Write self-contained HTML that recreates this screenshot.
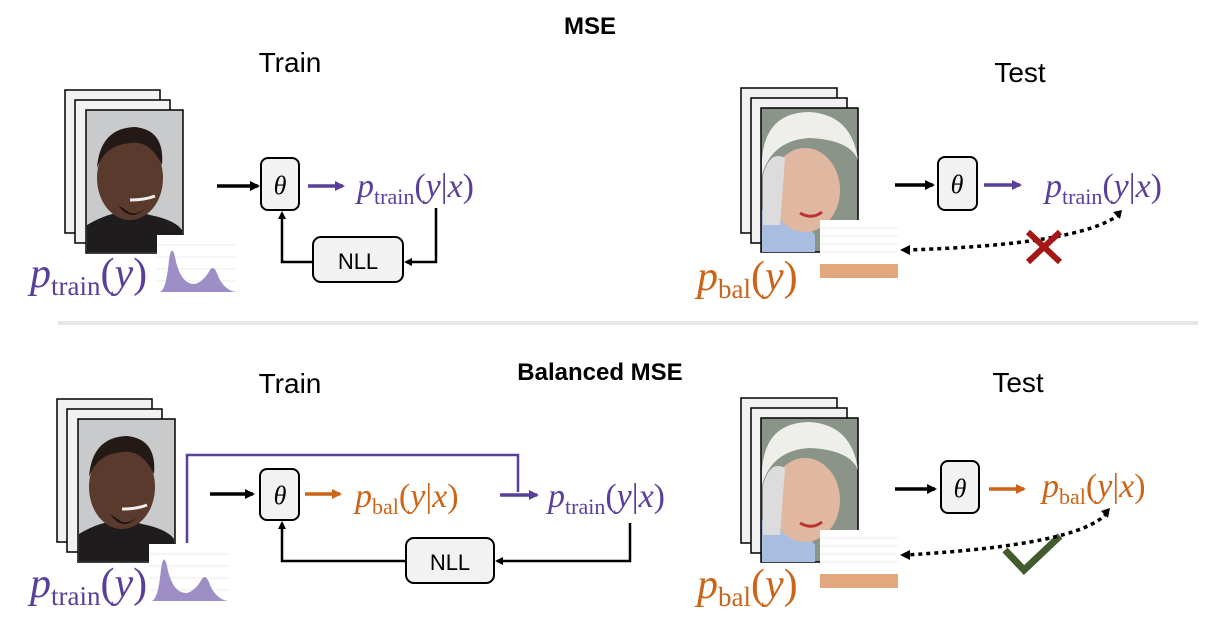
<!DOCTYPE html>
<html><head><meta charset="utf-8"><style>
html,body{margin:0;padding:0;background:#fff;}
svg{display:block}
.m{font-family:"Liberation Serif",serif;font-style:italic;}
.s{font-family:"Liberation Serif",serif;font-style:normal;}
.h{font-family:"Liberation Sans",sans-serif;}
</style></head><body>
<svg width="1220" height="622" viewBox="0 0 1220 622" xmlns="http://www.w3.org/2000/svg">
<defs>
<marker id="ak" markerWidth="8" markerHeight="8" refX="6" refY="4" orient="auto" markerUnits="userSpaceOnUse"><path d="M0,0 L8,4 L0,8 z" fill="#000"/></marker>
<marker id="ap" markerWidth="10" markerHeight="10" refX="8" refY="5" orient="auto" markerUnits="userSpaceOnUse"><path d="M0,0 L10,5 L0,10 z" fill="#5a3e9b"/></marker>
<marker id="ao" markerWidth="10" markerHeight="10" refX="8" refY="5" orient="auto" markerUnits="userSpaceOnUse"><path d="M0,0 L10,5 L0,10 z" fill="#cc6418"/></marker>
<marker id="ab" markerWidth="10" markerHeight="10" refX="8" refY="5" orient="auto" markerUnits="userSpaceOnUse"><path d="M0,0 L10,5 L0,10 z" fill="#000"/></marker>
<g id="man">
<rect x="65" y="90" width="95" height="143" fill="#f2f2f2" stroke="#000" stroke-width="1.5"/>
<rect x="75" y="100" width="95" height="143" fill="#f2f2f2" stroke="#000" stroke-width="1.5"/>
<rect x="86" y="110" width="97" height="143" fill="#c9cacb" stroke="#000" stroke-width="1.5"/>
<path d="M87,225 Q120,205 150,215 Q175,220 182,230 L182,252 L87,252 z" fill="#1e1c1c"/>
<ellipse cx="130" cy="178" rx="33" ry="42" fill="#5a3a2c"/>
<path d="M97,168 Q100,128 135,127 Q165,130 162,165 Q150,140 130,143 Q105,145 97,168z" fill="#231a17"/>
<path d="M118,205 Q132,225 148,205 Q140,215 130,213z" fill="#1a1210"/>
<path d="M130,200 Q145,200 155,196" stroke="#eee" stroke-width="3" fill="none"/>
<rect x="157" y="235" width="79" height="58" fill="#fff"/>
<g stroke="#eee" stroke-width="1"><line x1="157" y1="245" x2="236" y2="245"/><line x1="157" y1="257" x2="236" y2="257"/><line x1="157" y1="269" x2="236" y2="269"/><line x1="157" y1="281" x2="236" y2="281"/></g>
<path d="M159,292 Q166,292 169,260 Q172,240 176,262 Q182,285 195,284 Q203,282 210,270 Q214,264 218,276 Q224,290 236,292 z" fill="#9d8fc6"/>
</g>
<g id="woman">
<rect x="741" y="88" width="96" height="145" fill="#f2f2f2" stroke="#000" stroke-width="1.5"/>
<rect x="751" y="98" width="96" height="145" fill="#f2f2f2" stroke="#000" stroke-width="1.5"/>
<rect x="761" y="108" width="97" height="144" fill="#8a9488" stroke="#000" stroke-width="1.5"/>
<path d="M762,210 Q790,200 815,235 L815,252 L762,252 z" fill="#a9bde0"/>
<ellipse cx="805" cy="190" rx="35" ry="42" fill="#e0b8a2"/>
<path d="M762,160 Q765,112 810,112 Q852,115 858,160 Q850,140 810,138 Q772,140 762,175z" fill="#eeeeea"/>
<path d="M763,175 Q770,150 785,158 L780,225 L763,225z" fill="#dcdcdc"/>
<path d="M800,213 Q812,220 822,212" stroke="#b33" stroke-width="3" fill="none"/>
<rect x="820" y="220" width="78" height="58" fill="#fff"/>
<g stroke="#eee" stroke-width="1"><line x1="820" y1="228" x2="898" y2="228"/><line x1="820" y1="236" x2="898" y2="236"/><line x1="820" y1="244" x2="898" y2="244"/><line x1="820" y1="252" x2="898" y2="252"/></g>
<rect x="820" y="264" width="78" height="14" fill="#e2a77c"/>
</g>
</defs>

<text x="590" y="34" class="h" font-size="24" font-weight="bold" text-anchor="middle">MSE</text>
<text x="290" y="72" class="h" font-size="28" text-anchor="middle">Train</text>
<text x="1020" y="82" class="h" font-size="28" text-anchor="middle">Test</text>

<use href="#man"/>
<text x="30" y="287" fill="#5a3e9b" font-size="42"><tspan class="m">p</tspan><tspan class="s" font-size="27" dy="8">train</tspan><tspan class="s" dy="-8">(</tspan><tspan class="m">y</tspan><tspan class="s">)</tspan></text>
<line x1="217" y1="186" x2="258" y2="186" stroke="#000" stroke-width="3.5" marker-end="url(#ab)"/>
<rect x="261" y="158" width="38" height="52" rx="7" fill="#f2f2f2" stroke="#000" stroke-width="2"/>
<text x="280" y="194" class="m" font-size="26" text-anchor="middle">θ</text>
<line x1="308" y1="186" x2="343" y2="186" stroke="#5a3e9b" stroke-width="3.5" marker-end="url(#ap)"/>
<text x="357" y="197" fill="#5a3e9b" font-size="34"><tspan class="m">p</tspan><tspan class="s" font-size="22" dy="7">train</tspan><tspan class="s" dy="-7">(</tspan><tspan class="m">y</tspan><tspan class="s">|</tspan><tspan class="m">x</tspan><tspan class="s">)</tspan></text>
<polyline points="436,208 436,262 406,262" fill="none" stroke="#000" stroke-width="2.5" marker-end="url(#ak)"/>
<rect x="313" y="237" width="90" height="45" rx="8" fill="#f2f2f2" stroke="#000" stroke-width="2"/>
<text x="358" y="269" class="h" font-size="22" text-anchor="middle">NLL</text>
<polyline points="313,262 282,262 282,213" fill="none" stroke="#000" stroke-width="2.5" marker-end="url(#ak)"/>

<use href="#woman"/>
<text x="697" y="290" fill="#cc6418" font-size="42"><tspan class="m">p</tspan><tspan class="s" font-size="27" dy="8">bal</tspan><tspan class="s" dy="-8">(</tspan><tspan class="m">y</tspan><tspan class="s">)</tspan></text>
<line x1="895" y1="185" x2="933" y2="185" stroke="#000" stroke-width="3.5" marker-end="url(#ab)"/>
<rect x="938" y="157" width="39" height="53" rx="7" fill="#f2f2f2" stroke="#000" stroke-width="2"/>
<text x="957" y="193" class="m" font-size="26" text-anchor="middle">θ</text>
<line x1="984" y1="185" x2="1020" y2="185" stroke="#5a3e9b" stroke-width="3.5" marker-end="url(#ap)"/>
<text x="1045" y="197" fill="#5a3e9b" font-size="34"><tspan class="m">p</tspan><tspan class="s" font-size="22" dy="7">train</tspan><tspan class="s" dy="-7">(</tspan><tspan class="m">y</tspan><tspan class="s">|</tspan><tspan class="m">x</tspan><tspan class="s">)</tspan></text>
<path d="M1120,214 Q1080,245 905,250" fill="none" stroke="#000" stroke-width="3.5" stroke-dasharray="4,4"/>
<path d="M900,250 L910,245 L910,255z" fill="#000"/>
<path d="M1122,210 L1113,212 L1120,219z" fill="#000"/>
<path d="M1028,232 L1060,262 M1060,232 L1028,262" stroke="#a51616" stroke-width="6"/>

<line x1="58" y1="323" x2="1198" y2="323" stroke="#e6e6e6" stroke-width="4"/>

<text x="600" y="380" class="h" font-size="24" font-weight="bold" text-anchor="middle">Balanced MSE</text>
<text x="290" y="393" class="h" font-size="28" text-anchor="middle">Train</text>
<text x="1018" y="392" class="h" font-size="28" text-anchor="middle">Test</text>

<g transform="translate(-8,309)"><use href="#man"/></g>
<text x="30" y="597" fill="#5a3e9b" font-size="42"><tspan class="m">p</tspan><tspan class="s" font-size="27" dy="8">train</tspan><tspan class="s" dy="-8">(</tspan><tspan class="m">y</tspan><tspan class="s">)</tspan></text>
<polyline points="187,543 187,455 518,455 518,492" fill="none" stroke="#5a3e9b" stroke-width="2.5"/>
<line x1="210" y1="494" x2="253" y2="494" stroke="#000" stroke-width="3.5" marker-end="url(#ab)"/>
<rect x="260" y="469" width="39" height="51" rx="7" fill="#f2f2f2" stroke="#000" stroke-width="2"/>
<text x="280" y="504" class="m" font-size="26" text-anchor="middle">θ</text>
<line x1="305" y1="494" x2="340" y2="494" stroke="#cc6418" stroke-width="3.5" marker-end="url(#ao)"/>
<text x="355" y="507" fill="#cc6418" font-size="34"><tspan class="m">p</tspan><tspan class="s" font-size="22" dy="7">bal</tspan><tspan class="s" dy="-7">(</tspan><tspan class="m">y</tspan><tspan class="s">|</tspan><tspan class="m">x</tspan><tspan class="s">)</tspan></text>
<line x1="500" y1="495" x2="537" y2="495" stroke="#5a3e9b" stroke-width="3.5" marker-end="url(#ap)"/>
<text x="548" y="507" fill="#5a3e9b" font-size="34"><tspan class="m">p</tspan><tspan class="s" font-size="22" dy="7">train</tspan><tspan class="s" dy="-7">(</tspan><tspan class="m">y</tspan><tspan class="s">|</tspan><tspan class="m">x</tspan><tspan class="s">)</tspan></text>
<polyline points="630,523 630,561 497,561" fill="none" stroke="#000" stroke-width="2.5" marker-end="url(#ak)"/>
<rect x="406" y="538" width="88" height="45" rx="8" fill="#f2f2f2" stroke="#000" stroke-width="2"/>
<text x="450" y="570" class="h" font-size="22" text-anchor="middle">NLL</text>
<polyline points="406,561 282,561 282,523" fill="none" stroke="#000" stroke-width="2.5" marker-end="url(#ak)"/>

<g transform="translate(0,310)"><use href="#woman"/></g>
<text x="697" y="598" fill="#cc6418" font-size="42"><tspan class="m">p</tspan><tspan class="s" font-size="27" dy="8">bal</tspan><tspan class="s" dy="-8">(</tspan><tspan class="m">y</tspan><tspan class="s">)</tspan></text>
<line x1="895" y1="489" x2="935" y2="489" stroke="#000" stroke-width="3.5" marker-end="url(#ab)"/>
<rect x="941" y="461" width="38" height="52" rx="7" fill="#f2f2f2" stroke="#000" stroke-width="2"/>
<text x="960" y="497" class="m" font-size="26" text-anchor="middle">θ</text>
<line x1="989" y1="489" x2="1024" y2="489" stroke="#cc6418" stroke-width="3.5" marker-end="url(#ao)"/>
<text x="1042" y="497" fill="#cc6418" font-size="34"><tspan class="m">p</tspan><tspan class="s" font-size="22" dy="7">bal</tspan><tspan class="s" dy="-7">(</tspan><tspan class="m">y</tspan><tspan class="s">|</tspan><tspan class="m">x</tspan><tspan class="s">)</tspan></text>
<path d="M1005,550 L1024,570 L1060,536" fill="none" stroke="#435a2d" stroke-width="7"/>
<path d="M1107,513 Q1080,545 905,555" fill="none" stroke="#000" stroke-width="3.5" stroke-dasharray="4,4"/>
<path d="M900,555 L910,550 L910,560z" fill="#000"/>
<path d="M1110,508 L1101,511 L1108,518z" fill="#000"/>
</svg>
</body></html>
